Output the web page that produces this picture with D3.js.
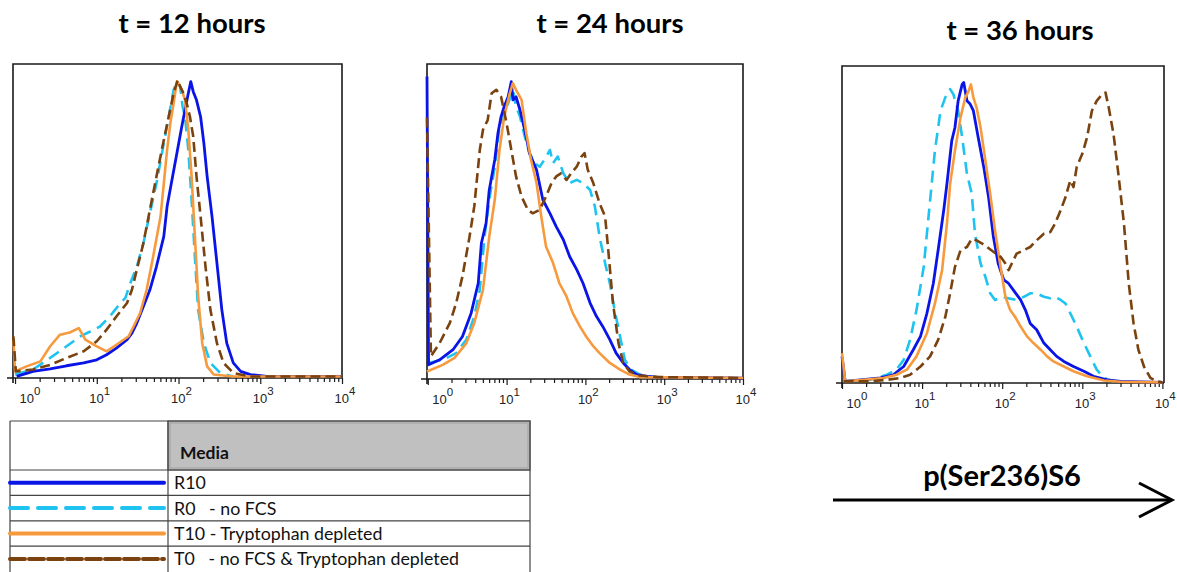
<!DOCTYPE html>
<html><head><meta charset="utf-8">
<script src="https://cdn.jsdelivr.net/npm/d3@7"></script>
<style>body{margin:0;background:#fff}svg{display:block}</style>
</head><body>
<svg id="c" width="1177" height="572"></svg>
<script>
// ---------------- DATA (x = log10 intensity, y = % of panel height) ----------------
const panelTitles = ["t = 12 hours", "t = 24 hours", "t = 36 hours"];
const decadeLabels = [0, 1, 2, 3, 4];
const seriesNames = ["R10", "R0   - no FCS", "T10 - Tryptophan depleted", "T0   - no FCS & Tryptophan depleted"];
const mediaHeader = "Media";
const markerLabel = "p(Ser236)S6";

const t12_R10 = [[0.02,0.5],[0.22,2.1],[0.43,2.9],[0.63,3.9],[0.84,4.8],[1.0,5.8],[1.12,7.4],[1.24,9.5],[1.37,12.2],[1.43,14.3],[1.49,17.5],[1.57,22.8],[1.65,28.1],[1.73,35.5],[1.82,45.1],[1.86,54.6],[1.92,63.1],[1.98,71.6],[2.04,80.1],[2.08,85.4],[2.12,90.7],[2.15,94.4],[2.18,91.2],[2.22,88.5],[2.27,83.2],[2.31,74.8],[2.35,64.2],[2.41,51.4],[2.47,36.6],[2.53,21.7],[2.59,11.1],[2.67,4.8],[2.76,2.1],[2.88,1.1],[3.08,0.5],[4.0,0.5]];
const t12_R0 = [[0,1.1],[0.22,2.7],[0.43,6.4],[0.63,10.1],[0.80,13.3],[0.92,14.8],[1.04,16.4],[1.16,19.6],[1.29,23.9],[1.35,25.5],[1.41,30.2],[1.49,35.5],[1.57,42.9],[1.65,52.5],[1.73,62.0],[1.82,74.8],[1.88,83.2],[1.94,91.7],[1.98,94.4],[2.02,92.8],[2.05,86.4],[2.08,83.2],[2.12,72.6],[2.16,56.7],[2.20,38.7],[2.24,21.7],[2.31,11.1],[2.39,4.8],[2.51,1.6],[2.67,0.5]];
const t12_T10 = [[-0.02,12.0],[0,2.1],[0.14,3.7],[0.31,5.3],[0.43,10.1],[0.55,13.8],[0.67,14.5],[0.78,15.9],[0.86,12.2],[1.0,10.1],[1.12,8.5],[1.24,10.6],[1.39,13.3],[1.45,16.4],[1.53,20.7],[1.61,28.1],[1.69,38.7],[1.78,51.4],[1.82,62.0],[1.86,72.6],[1.90,81.1],[1.94,87.5],[1.98,94.4],[2.0,93.8],[2.04,91.7],[2.08,88.5],[2.12,79.0],[2.16,64.2],[2.20,45.1],[2.24,26.0],[2.29,11.1],[2.35,3.7],[2.43,1.1],[2.67,0.5],[4.0,0.5]];
const t12_T0 = [[-0.02,13.3],[0.01,2.1],[0.22,2.7],[0.43,4.2],[0.63,6.4],[0.84,8.5],[1.0,11.7],[1.12,15.4],[1.24,19.6],[1.37,23.9],[1.43,28.1],[1.49,34.5],[1.57,42.9],[1.65,53.6],[1.73,64.2],[1.82,75.8],[1.88,83.2],[1.94,90.7],[1.99,94.9],[2.02,92.8],[2.06,90.7],[2.10,87.5],[2.14,83.2],[2.18,76.9],[2.22,64.2],[2.27,51.4],[2.33,35.5],[2.39,21.7],[2.47,11.1],[2.55,4.8],[2.67,1.6],[2.88,0.5],[4.0,0.5]];

const t24_R10 = [[-0.01,96],[0.01,4.5],[0.15,6.1],[0.32,9.3],[0.44,13.5],[0.55,20.9],[0.64,30.4],[0.68,43.1],[0.74,49.5],[0.78,60.0],[0.85,69.6],[0.89,78.0],[0.93,83.3],[0.97,86.5],[1.02,89.6],[1.06,94.4],[1.08,88.6],[1.12,89.6],[1.17,85.4],[1.23,79.1],[1.29,71.7],[1.38,66.4],[1.46,56.9],[1.55,52.6],[1.63,48.4],[1.72,44.2],[1.80,38.9],[1.89,34.7],[1.97,30.4],[2.06,24.1],[2.14,19.9],[2.22,16.7],[2.31,12.5],[2.39,8.2],[2.48,5.1],[2.56,3.0],[2.65,1.4],[2.78,0.8],[2.90,0.6],[4.0,0.3]];
const t24_R0 = [[0.01,5.1],[0.19,6.1],[0.36,8.2],[0.49,12.5],[0.59,19.9],[0.66,28.3],[0.72,45.2],[0.78,56.9],[0.85,67.4],[0.91,80.1],[0.95,83.3],[1.02,87.5],[1.08,91.8],[1.12,86.5],[1.17,83.3],[1.23,77.0],[1.29,71.7],[1.36,68.5],[1.42,67.4],[1.48,69.6],[1.55,72.7],[1.59,68.5],[1.65,70.6],[1.72,65.3],[1.80,62.2],[1.89,63.2],[1.97,62.2],[2.06,60.0],[2.12,54.8],[2.18,45.2],[2.25,36.8],[2.31,30.4],[2.37,22.0],[2.44,13.5],[2.50,6.1],[2.58,3.0],[2.69,1.4],[2.86,0.6]];
const t24_T10 = [[-0.01,2.4],[0.19,4.5],[0.34,6.7],[0.49,11.4],[0.59,17.8],[0.70,28.3],[0.78,45.2],[0.85,56.9],[0.91,72.7],[0.97,83.3],[1.04,90.7],[1.08,93.9],[1.12,91.8],[1.19,88.6],[1.25,78.0],[1.31,69.6],[1.38,62.2],[1.44,51.6],[1.50,42.1],[1.59,36.8],[1.67,30.4],[1.76,26.2],[1.84,20.9],[1.93,16.7],[2.01,13.5],[2.10,10.4],[2.18,8.2],[2.31,5.1],[2.44,3.0],[2.56,1.4],[2.69,0.6],[4.0,0.3]];
const t24_T0 = [[-0.01,83.0],[0.04,7.2],[0.15,11.4],[0.28,17.8],[0.36,24.1],[0.44,32.6],[0.53,45.2],[0.59,54.8],[0.66,72.7],[0.70,79.1],[0.76,82.2],[0.81,90.7],[0.87,91.8],[0.93,89.6],[1.0,81.2],[1.06,72.7],[1.12,64.3],[1.19,57.9],[1.27,53.7],[1.33,52.6],[1.42,53.7],[1.50,57.9],[1.57,62.2],[1.63,64.3],[1.69,65.3],[1.76,63.2],[1.82,65.3],[1.89,67.4],[1.95,70.6],[1.99,71.7],[2.03,66.4],[2.10,62.2],[2.18,55.8],[2.25,51.6],[2.29,41.0],[2.35,24.1],[2.42,11.4],[2.48,5.1],[2.56,2.4],[2.69,1.1],[2.94,0.6],[4.0,0.3]];

const t36_R10 = [[0,8.4],[0.04,0.5],[0.23,1.0],[0.48,1.6],[0.64,2.6],[0.77,5.2],[0.89,10.5],[0.98,14.7],[1.06,22.0],[1.14,31.4],[1.20,41.9],[1.27,54.5],[1.31,62.8],[1.37,76.4],[1.41,80.6],[1.45,89.0],[1.50,94.2],[1.52,94.8],[1.56,89.0],[1.60,88.0],[1.64,85.9],[1.70,77.5],[1.77,68.1],[1.83,58.6],[1.89,46.1],[1.95,37.7],[2.02,32.5],[2.08,31.4],[2.14,29.3],[2.23,26.2],[2.29,23.0],[2.35,18.8],[2.43,16.8],[2.52,12.6],[2.60,10.5],[2.68,8.4],[2.77,6.8],[2.89,5.2],[3.02,3.7],[3.14,2.1],[3.31,1.0],[3.48,0.5],[4.0,0.2]];
const t36_R0 = [[0.02,0.5],[0.35,1.0],[0.56,2.6],[0.68,4.2],[0.77,7.3],[0.85,13.6],[0.93,23.0],[1.02,36.6],[1.10,57.6],[1.16,73.3],[1.23,85.9],[1.29,90.1],[1.35,92.7],[1.39,91.1],[1.45,85.9],[1.50,77.5],[1.56,66.0],[1.62,59.7],[1.66,47.1],[1.73,37.7],[1.79,33.5],[1.85,28.3],[1.91,26.2],[2.0,27.2],[2.08,26.7],[2.18,26.2],[2.27,27.2],[2.35,28.3],[2.43,28.3],[2.52,27.2],[2.60,26.7],[2.66,27.2],[2.73,26.2],[2.79,25.1],[2.85,22.0],[2.93,17.8],[3.02,12.6],[3.10,8.4],[3.18,4.2],[3.27,1.6],[3.39,0.5]];
const t36_T10 = [[0,9.4],[0.04,0.5],[0.27,1.0],[0.52,1.6],[0.68,2.6],[0.81,4.2],[0.93,8.4],[1.06,15.7],[1.16,25.1],[1.25,35.6],[1.31,50.3],[1.35,62.8],[1.41,73.3],[1.48,83.8],[1.54,90.1],[1.58,92.1],[1.61,94.2],[1.64,90.1],[1.68,86.9],[1.73,80.6],[1.79,70.2],[1.85,59.7],[1.91,48.2],[1.98,36.6],[2.04,27.2],[2.10,23.0],[2.16,20.9],[2.23,17.8],[2.31,14.7],[2.39,12.6],[2.48,10.5],[2.56,8.4],[2.64,6.8],[2.77,5.2],[2.89,3.7],[3.06,2.1],[3.27,0.8],[3.48,0.4],[4.0,0.2]];
const t36_T0 = [[0.02,0.5],[0.35,0.5],[0.56,1.0],[0.73,1.6],[0.85,2.6],[0.98,5.2],[1.10,8.4],[1.20,13.6],[1.29,20.9],[1.35,28.3],[1.41,36.6],[1.48,41.9],[1.56,42.9],[1.62,45.5],[1.68,45.0],[1.75,44.0],[1.81,42.9],[1.89,41.4],[1.98,39.8],[2.04,37.7],[2.08,35.6],[2.12,37.7],[2.18,40.8],[2.27,41.9],[2.35,42.9],[2.43,45.0],[2.52,47.1],[2.60,47.6],[2.66,50.3],[2.73,54.5],[2.79,58.6],[2.85,63.9],[2.89,61.8],[2.93,68.1],[3.0,72.3],[3.06,77.5],[3.12,85.9],[3.18,89.0],[3.25,91.1],[3.29,91.6],[3.33,86.9],[3.39,78.5],[3.45,66.0],[3.52,50.3],[3.58,31.4],[3.64,18.8],[3.70,10.5],[3.77,5.2],[3.85,1.6],[3.93,0.5],[4.0,0.2]];

// ---------------- STYLE / LAYOUT ----------------
const styles = [
  {color:"#0a14e6", dash:null,    w:2.8},   // R10
  {color:"#1fc3f0", dash:"12,7",  w:2.6},   // R0
  {color:"#f79a3e", dash:null,    w:2.6},   // T10
  {color:"#7a420e", dash:"10,5",  w:2.6}    // T0
];
const panels = [
  {data:[t12_R10,t12_R0,t12_T10,t12_T0], left:13,  right:342,  top:64, base:378, lo:-0.025, hi:4.0,  titleX:192,  titleY:33},
  {data:[t24_R10,t24_R0,t24_T10,t24_T0], left:427, right:743,  top:64, base:379, lo:-0.01,  hi:4.0,  titleX:610,  titleY:33},
  {data:[t36_R10,t36_R0,t36_T10,t36_T0], left:842, right:1164, top:66, base:383, lo:0.0,    hi:4.02, titleX:1020, titleY:40}
];
const drawOrder = [1, 0, 2, 3];

const svg = d3.select("#c");
const sans = "'Liberation Sans', Arial, sans-serif";
const calib = "Lato, 'Open Sans', sans-serif";

panels.forEach((p, pi) => {
  const x = d3.scaleLog().domain([Math.pow(10,p.lo), Math.pow(10,p.hi)]).range([p.left, p.right]);
  const y = d3.scaleLinear().domain([0,100]).range([p.base, p.top]);
  const g = svg.append("g");

  // title
  svg.append("text").attr("x", p.titleX).attr("y", p.titleY)
    .attr("text-anchor","middle").attr("font-family",calib).attr("font-weight","bold")
    .attr("font-size",27.5).attr("fill","#000").text(panelTitles[pi]);

  // frame (left, top, right)
  g.append("path")
    .attr("d", `M${p.left},${p.base+5}V${p.top}H${p.right}V${p.base}`)
    .attr("fill","none").attr("stroke","#1a1a1a").attr("stroke-width",1.6);

  // axes: minor and major ticks
  const minor = [], major = [];
  for (let k = 0; k < 4; k++) for (let m = 2; m <= 9; m++) minor.push(m*Math.pow(10,k));
  decadeLabels.forEach(k => major.push(Math.pow(10,k)));
  const axMinor = d3.axisBottom(x).tickValues(minor).tickSize(4).tickSizeOuter(0).tickFormat("");
  const axMajor = d3.axisBottom(x).tickValues(major.filter(v => x(v) >= p.left-0.5)).tickSize(6).tickSizeOuter(0).tickFormat("");
  const gm = g.append("g").attr("transform",`translate(0,${p.base})`).call(axMinor);
  const gM = g.append("g").attr("transform",`translate(0,${p.base})`).call(axMajor);
  [gm, gM].forEach(a => { a.select(".domain").remove(); a.selectAll("line").attr("stroke","#1a1a1a").attr("stroke-width",1.2); });
  g.append("line").attr("x1", p.left-6).attr("x2", p.right).attr("y1", p.base).attr("y2", p.base)
    .attr("stroke","#1a1a1a").attr("stroke-width",1.6);

  // tick labels 10^k
  decadeLabels.forEach((k, i) => {
    const xx = x(Math.pow(10,k)) + (i === 0 ? 12 : 0);
    const t = g.append("text").attr("x", xx - 7.5).attr("y", p.base + 25)
      .attr("font-family", sans).attr("font-size", 13).attr("fill","#222");
    t.append("tspan").text("10");
    t.append("tspan").attr("dy",-8).attr("font-size",11.5).text(String(k));
  });

  // curves
  const line = d3.line().x(d => x(Math.pow(10,d[0]))).y(d => y(d[1]));
  drawOrder.forEach(si => {
    const st = styles[si];
    g.append("path").datum(p.data[si]).attr("d", line)
      .attr("fill","none").attr("stroke", st.color).attr("stroke-width", st.w)
      .attr("stroke-linejoin","round")
      .attr("stroke-dasharray", st.dash);
  });
});

// ---------------- LEGEND TABLE ----------------
const tbl = {left:10, mid:168, right:530, top:421, headBottom:470, rowH:25.4};
const lg = svg.append("g");
lg.append("rect").attr("x", tbl.mid).attr("y", tbl.top).attr("width", tbl.right-tbl.mid).attr("height", tbl.headBottom-tbl.top)
  .attr("fill","#c0c0c0").attr("stroke","#6a6a6a").attr("stroke-width",1.2);
lg.append("rect").attr("x", tbl.mid+2).attr("y", tbl.top+2).attr("width", tbl.right-tbl.mid-4).attr("height", tbl.headBottom-tbl.top-4)
  .attr("fill","none").attr("stroke","#9a9a9a").attr("stroke-width",0.8);
lg.append("text").attr("x", tbl.mid+12).attr("y", tbl.top+38).attr("font-family",calib).attr("font-weight","bold")
  .attr("font-size",17.5).attr("fill","#111").text(mediaHeader);
// grid lines
const rowsY = seriesNames.map((_, i) => tbl.headBottom + i*tbl.rowH);
lg.append("path").attr("d",
  `M${tbl.left},${tbl.top}H${tbl.right}V572M${tbl.left},${tbl.top}V572M${tbl.mid},${tbl.top}V572` +
  rowsY.map(yy => `M${tbl.left},${yy}H${tbl.right}`).join(""))
  .attr("fill","none").attr("stroke","#444").attr("stroke-width",1.2);
const legendDash = ["", "18,10", "", "15,4"];
seriesNames.forEach((name, i) => {
  const yy = rowsY[i] + tbl.rowH/2;
  lg.append("line").attr("x1", tbl.left).attr("x2", tbl.mid-4).attr("y1", yy).attr("y2", yy)
    .attr("stroke", styles[i].color).attr("stroke-width", 4).attr("stroke-linecap","round")
    .attr("stroke-dasharray", legendDash[i] || null);
  lg.append("text").attr("x", tbl.mid+6).attr("y", yy+6.5).attr("font-family",calib)
    .attr("font-size",17.8).attr("fill","#111").attr("xml:space","preserve").style("white-space","pre").text(name);
});

// ---------------- ARROW ----------------
const ag = svg.append("g");
ag.append("text").attr("x", 1002).attr("y", 486).attr("text-anchor","middle").attr("font-family",calib)
  .attr("font-weight","bold").attr("font-size",29).attr("fill","#000").text(markerLabel);
ag.append("line").attr("x1",833).attr("x2",1171).attr("y1",500).attr("y2",500).attr("stroke","#000").attr("stroke-width",3);
ag.append("path").attr("d","M1139,483L1172,500L1139,517").attr("fill","none").attr("stroke","#000").attr("stroke-width",3);
</script>
</body></html>
